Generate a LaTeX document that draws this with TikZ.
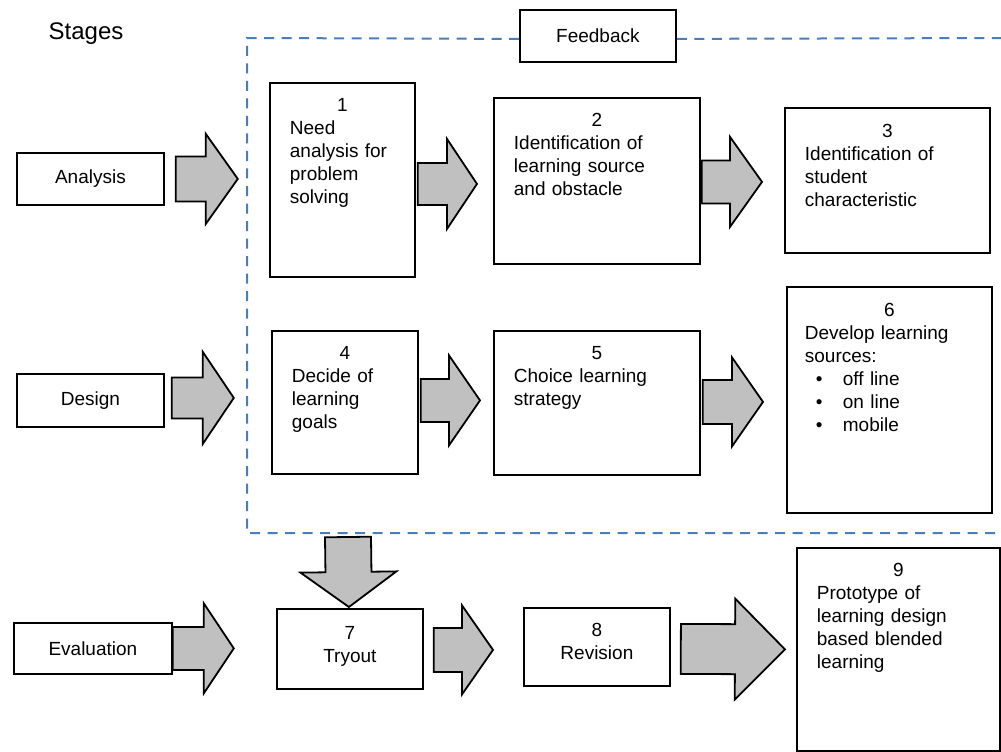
\documentclass[tikz,border=0pt]{standalone}
\usepackage{fontspec}
\setmainfont{Liberation Sans}
\usetikzlibrary{calc}

\definecolor{feedblue}{RGB}{74,126,187}
\definecolor{arrowgray}{RGB}{192,192,192}

\newcommand{\boxfont}{\fontsize{19}{23}\selectfont}
\newcommand{\bulletline}[1]{\hspace*{11pt}\makebox[27pt][l]{•}#1}

% fat arrow: tail, tip, half shaft, head length, half head
\newcommand{\blockarrow}[5]{%
  \coordinate (ba-t) at (#1);
  \coordinate (ba-h) at (#2);
  \coordinate (ba-b) at ($(ba-h)!#4!(ba-t)$);
  \draw[bigarrow] ($(ba-t)!#3!90:(ba-h)$) -- ($(ba-b)!#3!90:(ba-h)$)
    -- ($(ba-b)!#5!90:(ba-h)$) -- (ba-h) -- ($(ba-b)!#5!-90:(ba-h)$)
    -- ($(ba-b)!#3!-90:(ba-h)$) -- ($(ba-t)!#3!-90:(ba-h)$) -- cycle;}

\begin{document}
\begin{tikzpicture}
[x=1pt,y=-1pt,
 stagebox/.style={draw,line width=1.8pt,anchor=north west,inner sep=0pt,font=\boxfont},
 stepbox/.style={draw,line width=1.8pt,anchor=north west,inner sep=0pt},
 steptext/.style={anchor=north,inner sep=0pt,align=left,font=\boxfont},
 bigarrow/.style={draw,line width=1.8pt,fill=arrowgray,line join=miter},
 feedline/.style={feedblue,line width=2pt,dash pattern=on 10pt off 7.5pt}]

  \useasboundingbox (0,0) rectangle (1001,752);

  \node[font=\fontsize{24}{28}\selectfont] (stages) at (86,34) {Stages};

  % stages on the left
  \node[stagebox,minimum width=147pt,minimum height=52pt] (analysis)   at (16,152) {Analysis};
  \node[stagebox,minimum width=147pt,minimum height=53pt] (design)     at (16,373) {Design};
  \node[stagebox,minimum width=158pt,minimum height=51pt] (evaluation) at (13,622) {Evaluation};

  % feedback frame
  \node[stagebox,minimum width=156pt,minimum height=52pt] (feedback) at (519,9) {Feedback};
  \coordinate (frame-nw) at (247,38);
  \coordinate (frame-ne) at (1001,38);
  \coordinate (frame-sw) at (247,533);
  \coordinate (frame-se) at (1001,533);
  \draw[feedline] ([yshift=-3pt]feedback.west) -- (frame-nw) -- (frame-sw) -- (frame-se);
  \draw[feedline] ([yshift=-3pt]feedback.east) -- (frame-ne);

  % steps
  \node[stepbox,minimum width=145pt,minimum height=194pt] (box1) at (269,82) {};
  \node[stepbox,minimum width=206pt,minimum height=166pt] (box2) at (493,97) {};
  \node[stepbox,minimum width=205pt,minimum height=145pt] (box3) at (784,107) {};
  \node[stepbox,minimum width=146pt,minimum height=143pt] (box4) at (271,330) {};
  \node[stepbox,minimum width=206pt,minimum height=144pt] (box5) at (493,330) {};
  \node[stepbox,minimum width=205pt,minimum height=226pt] (box6) at (786,286) {};
  \node[stepbox,minimum width=146pt,minimum height=80pt]  (box7) at (276,608) {};
  \node[stepbox,minimum width=146pt,minimum height=78pt]  (box8) at (523,607) {};
  \node[stepbox,minimum width=203pt,minimum height=203pt] (box9) at (796,547) {};

  \node[steptext,text width=105pt] (text1) at ([yshift=-16pt]box1.north)
    {{\centering 1\par}Need\\analysis for\\problem\\solving};
  \node[steptext,text width=166pt] (text2) at ([yshift=-16pt]box2.north)
    {{\centering 2\par}Identification of\\learning source\\and obstacle};
  \node[steptext,text width=165pt] (text3) at ([yshift=-17pt]box3.north)
    {{\centering 3\par}Identification of\\student\\characteristic};
  \node[steptext,text width=106pt] (text4) at ([yshift=-16pt]box4.north)
    {{\centering 4\par}Decide of\\learning\\goals};
  \node[steptext,text width=166pt] (text5) at ([yshift=-16pt]box5.north)
    {{\centering 5\par}Choice learning\\strategy};
  \node[steptext,text width=169pt] (text6) at ([yshift=-17pt]box6.north)
    {{\centering 6\par}Develop learning\\sources:\\\bulletline{off line}\\\bulletline{on line}\\\bulletline{mobile}};
  \node[steptext,align=center] (text7) at ([yshift=-18pt]box7.north) {7\\Tryout};
  \node[steptext,align=center] (text8) at ([yshift=-16pt]box8.north) {8\\Revision};
  \node[steptext,text width=163pt] (text9) at ([yshift=-16pt]box9.north)
    {{\centering 9\par}Prototype of\\learning design\\based blended\\learning};

  % big arrows
  \coordinate (trytop) at (348,537);
  \blockarrow{[xshift=11pt]analysis.east}{[xshift=73pt]analysis.east}{22.5pt}{32pt}{45pt}
  \blockarrow{[xshift=2pt,yshift=-4pt]box1.east}{[xshift=-16pt,yshift=-3pt]box2.west}{21pt}{30pt}{45pt}
  \blockarrow{[xshift=1pt,yshift=-1pt]box2.east}{[xshift=-22pt,yshift=-1.5pt]box3.west}{21.5pt}{32pt}{45pt}
  \blockarrow{[xshift=7pt,yshift=2.5pt]design.east}{[xshift=69pt,yshift=2.5pt]design.east}{20.5pt}{31pt}{46pt}
  \blockarrow{[xshift=2pt,yshift=2pt]box4.east}{[xshift=-13pt,yshift=2.5pt]box5.west}{21.5pt}{31pt}{45pt}
  \blockarrow{[xshift=2pt,yshift=1pt]box5.east}{[xshift=-23pt,yshift=-2pt]box6.west}{22pt}{31pt}{44.5pt}
  \blockarrow{trytop}{[xshift=-1pt,yshift=1pt]box7.north}{23pt}{35pt}{48pt}
  \blockarrow{evaluation.east}{[xshift=61pt]evaluation.east}{21.5pt}{30pt}{45pt}
  \blockarrow{[xshift=10pt,yshift=-1pt]box7.east}{[xshift=-30pt,yshift=-3pt]box8.west}{22pt}{31pt}{44.5pt}
  \blockarrow{[xshift=10pt,yshift=-2pt]box8.east}{[xshift=-11pt]box9.west}{25pt}{50pt}{50.5pt}
\end{tikzpicture}
\end{document}
